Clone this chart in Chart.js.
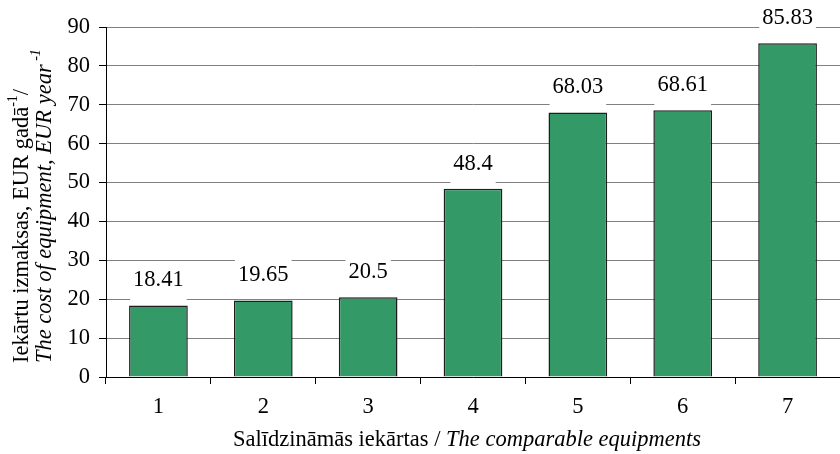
<!DOCTYPE html>
<html>
<head>
<meta charset="utf-8">
<script src="https://cdn.jsdelivr.net/npm/chart.js@4"></script>
<style>
  html, body { margin: 0; padding: 0; background: #fff; }
  #wrap { width: 840px; height: 454px; }
</style>
</head>
<body>
<div id="wrap"><canvas id="c" width="840" height="454"></canvas></div>
<script>
// --- Data ---
const categories = ['1', '2', '3', '4', '5', '6', '7'];
const costs = [18.41, 19.65, 20.5, 48.4, 68.03, 68.61, 85.83];
const yTicks = [0, 10, 20, 30, 40, 50, 60, 70, 80, 90];

const FONT = '"Liberation Serif", "Times New Roman", serif';
const FS = 22.5;

// draw text runs (normal / italic / superscript) one after another
const drawRuns = (ctx, runs, x, y) => {
  let cx = x;
  runs.forEach(r => {
    const size = r.sup ? 14 : FS;
    ctx.font = (r.italic ? 'italic ' : '') + size + 'px ' + FONT;
    ctx.fillText(r.t, cx, r.sup ? y - 9 : y);
    cx += ctx.measureText(r.t).width;
  });
  return cx;
};

const runsWidth = (ctx, runs) => {
  let w = 0;
  runs.forEach(r => {
    ctx.font = (r.italic ? 'italic ' : '') + (r.sup ? 14 : FS) + 'px ' + FONT;
    w += ctx.measureText(r.t).width;
  });
  return w;
};

// value labels with white box + axis titles
const labelsPlugin = {
  id: 'labels',
  afterDatasetsDraw(chart) {
    const ctx = chart.ctx;
    const meta = chart.getDatasetMeta(0);
    ctx.save();
    ctx.font = FS + 'px ' + FONT;
    ctx.textAlign = 'center';
    ctx.textBaseline = 'middle';
    meta.data.forEach((bar, i) => {
      const txt = String(costs[i]);
      const w = ctx.measureText(txt).width;
      const cy = bar.y - 25;
      ctx.fillStyle = '#fff';
      ctx.fillRect(bar.x - w / 2 - 3, cy - 16, w + 6, 36);
      ctx.fillStyle = '#000';
      ctx.fillText(txt, bar.x, cy);
    });
    ctx.restore();
  },
  afterDraw(chart) {
    const ctx = chart.ctx;
    ctx.save();
    ctx.fillStyle = '#000';
    ctx.textAlign = 'left';
    ctx.textBaseline = 'middle';

    // y title, two lines, rotated
    ctx.save();
    ctx.translate(0, 363);
    ctx.rotate(-Math.PI / 2);
    drawRuns(ctx, [
      { t: 'Iekārtu izmaksas, EUR gadā' },
      { t: '-1', sup: true },
      { t: '/' }
    ], 0, 22);
    drawRuns(ctx, [
      { t: 'The cost of equipment, EUR year', italic: true },
      { t: ' -1', sup: true, italic: true }
    ], 0, 45);
    ctx.restore();

    // x title
    const xRuns = [
      { t: 'Salīdzināmās iekārtas / ' },
      { t: 'The comparable equipments', italic: true }
    ];
    const w = runsWidth(ctx, xRuns);
    drawRuns(ctx, xRuns, 467 - w / 2, 440);
    ctx.restore();
  }
};

new Chart(document.getElementById('c'), {
  type: 'bar',
  data: {
    labels: categories,
    datasets: [{
      data: costs,
      backgroundColor: '#339966',
      borderColor: '#1e1e1e',
      borderWidth: 1.5,
      barPercentage: 0.56,
      categoryPercentage: 1
    }]
  },
  options: {
    responsive: false,
    animation: false,
    layout: { padding: { top: 27, right: 0, left: 0, bottom: 0 } },
    plugins: { legend: { display: false }, tooltip: { enabled: false } },
    scales: {
      x: {
        afterFit: s => { s.height = 77; },
        grid: { drawOnChartArea: false, offset: true, tickLength: 7, tickColor: '#000' },
        border: { color: '#000', width: 1 },
        ticks: { color: '#000', font: { family: FONT, size: FS }, padding: 10 }
      },
      y: {
        min: 0, max: 90,
        afterFit: s => { s.width = 106; },
        afterBuildTicks: s => { s.ticks = yTicks.map(v => ({ value: v })); },
        grid: { color: '#808080', tickLength: 7, tickColor: '#000' },
        border: { color: '#000', width: 1 },
        ticks: { color: '#000', font: { family: FONT, size: FS }, padding: 9 }
      }
    }
  },
  plugins: [labelsPlugin]
});
</script>
</body>
</html>
